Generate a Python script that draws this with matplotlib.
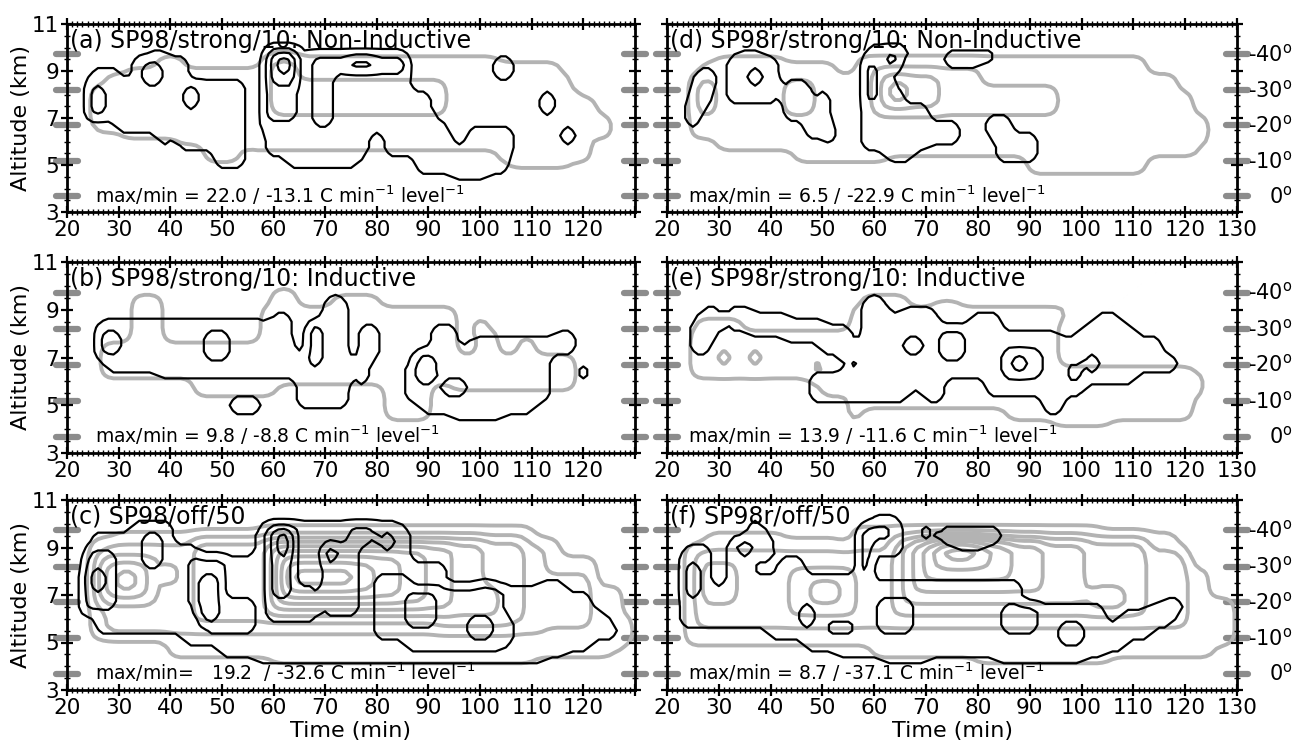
import numpy as np
import matplotlib
matplotlib.use("Agg")
import matplotlib.pyplot as plt
import matplotlib.transforms as mtransforms
from matplotlib.ticker import MultipleLocator

plt.rcParams["font.family"] = "DejaVu Sans"
plt.rcParams["mathtext.default"] = "regular"

# Each field is a set of boxes (t0, t1, z0, z1, level): time in min, altitude in km.
# Nested boxes give the inner contour levels.
A_BLACK = [
    (24, 54, 7.0, 8.5, 1), (25, 30, 8.5, 9.0, 1), (33, 43, 8.5, 9.5, 1), (36, 39, 9.5, 9.75, 1),
    (30, 54, 6.5, 7.0, 1), (38, 40, 6.0, 6.5, 1), (42, 54, 5.75, 6.5, 1), (49, 54, 5.0, 5.75, 1),
    (25, 27, 7.25, 8.25, 2), (35, 38, 8.5, 9.25, 2), (43, 45, 7.5, 8.25, 2),
    (58, 86, 6.5, 9.5, 1), (59, 85, 9.5, 9.75, 1), (59, 64, 9.75, 10.0, 1),
    (86, 90, 6.5, 8.0, 1), (90, 92, 6.25, 7.0, 1), (59, 78, 5.5, 6.5, 1), (82, 94, 5.5, 6.5, 1),
    (94, 106, 5.5, 5.75, 1), (98, 106, 5.75, 6.5, 1), (63, 76, 5.0, 5.5, 1),
    (88, 105, 4.75, 5.5, 1), (95, 101, 4.5, 4.75, 1),
    (59, 64, 7.0, 9.75, 2), (60, 64, 8.5, 9.75, 3), (61, 63, 9.0, 9.5, 4),
    (68, 71, 6.75, 9.25, 2), (68, 85, 9.0, 9.5, 2), (75, 79, 9.25, 9.5, 3),
    (103, 106, 8.75, 9.5, 1), (112, 114, 7.25, 8.0, 1), (116, 118, 6.0, 6.5, 1),
]
A_GRAY = [
    (26, 119, 6.5, 8.0, 1), (25, 30, 6.75, 8.25, 1), (28, 117, 8.0, 8.75, 1),
    (32, 112, 8.75, 9.0, 1), (38, 42, 9.0, 9.5, 1), (58, 103, 9.0, 9.5, 1),
    (104, 115, 8.75, 9.25, 1), (119, 122, 6.5, 7.75, 1), (122, 125, 6.25, 7.0, 1),
    (31, 42, 6.25, 6.5, 1), (42, 120, 6.0, 6.5, 1), (47, 53, 5.25, 6.0, 1),
    (55, 104, 5.75, 6.0, 1), (104, 121, 5.25, 6.0, 1), (106, 117, 5.0, 5.25, 1),
    (60, 93, 7.25, 8.5, 2), (60, 64, 8.5, 9.5, 2),
]

B_BLACK = [
    (26, 63, 7.5, 8.25, 1), (26, 64, 7.0, 7.5, 1), (27, 58, 8.25, 8.5, 1), (60, 63, 8.25, 8.75, 1),
    (28, 38, 6.5, 7.0, 1), (38, 50, 6.25, 7.0, 1), (50, 64, 6.25, 7.0, 1),
    (65, 74, 5.0, 7.0, 1), (67, 74, 7.0, 7.75, 1), (68, 74, 7.75, 8.5, 1),
    (70, 74, 8.5, 9.25, 1), (71, 73, 9.25, 9.5, 1),
    (27, 30, 7.25, 8.0, 2), (47, 51, 7.0, 8.0, 2), (67, 69, 6.75, 8.25, 2),
    (76, 78, 6.0, 7.0, 1), (77, 80, 7.0, 8.25, 1), (52, 57, 4.75, 5.25, 1),
    (86, 113, 5.25, 6.75, 1), (88, 96, 6.75, 7.25, 1), (91, 95, 7.25, 8.25, 1),
    (97, 113, 6.75, 7.5, 1), (99, 118, 7.5, 7.75, 1), (114, 118, 7.25, 7.5, 1),
    (115, 118, 7.75, 8.0, 1), (89, 110, 4.75, 5.25, 1), (95, 104, 4.5, 4.75, 1),
    (88, 91, 6.0, 7.0, 2), (93, 97, 5.5, 6.0, 2), (119, 121, 6.25, 6.5, 1),
]
B_GRAY = [
    (27, 58, 6.25, 7.5, 1), (33, 38, 7.5, 9.5, 1), (45, 60, 5.5, 6.25, 1),
    (58, 95, 6.0, 9.0, 1), (60, 64, 9.0, 9.75, 1), (72, 80, 9.0, 9.5, 1),
    (82, 90, 4.5, 6.0, 1), (95, 118, 5.75, 7.0, 1), (100, 103, 7.0, 8.0, 1),
    (108, 110, 7.0, 7.75, 1), (99, 101, 8.0, 8.5, 1),
]

C_BLACK = [
    (23, 57, 6.25, 8.0, 1), (25, 33, 8.0, 9.5, 1), (33, 40, 8.0, 10.0, 1),
    (40, 45, 8.0, 9.0, 1), (45, 56, 8.0, 8.5, 1), (26, 43, 5.5, 6.25, 1),
    (43, 57, 5.0, 6.25, 1), (50, 60, 4.5, 5.0, 1), (57, 86, 4.25, 9.75, 1),
    (59, 84, 9.75, 10.0, 1), (86, 93, 4.25, 8.25, 1), (93, 112, 4.25, 7.25, 1),
    (100, 102, 7.25, 7.5, 1), (112, 116, 4.5, 7.5, 1), (116, 121, 4.75, 7.0, 1),
    (121, 124, 5.25, 6.25, 1), (124, 126, 5.25, 5.75, 1),
    (24, 29, 6.5, 8.75, 2), (25, 27, 7.25, 8.0, 3), (35, 38, 8.25, 9.5, 2),
    (44, 50, 6.5, 8.5, 2), (47, 56, 5.5, 6.75, 2), (46, 49, 6.0, 7.75, 3),
    (59, 64, 6.0, 9.75, 2), (60, 63, 7.0, 9.75, 3), (61, 63, 8.75, 9.5, 4),
    (65, 68, 6.0, 7.25, 2), (70, 76, 6.25, 9.0, 2), (70, 72, 8.5, 9.0, 3),
    (75, 79, 9.25, 9.75, 2), (81, 83, 9.0, 9.5, 2),
    (80, 86, 5.25, 7.75, 2), (86, 104, 4.75, 7.25, 2), (104, 106, 5.0, 6.0, 2),
    (86, 91, 5.75, 7.0, 3), (98, 102, 5.25, 6.0, 3),
]
C_GRAY = [
    (25, 115, 5.25, 9.25, 1), (30, 57, 9.25, 9.5, 1), (58, 110, 9.25, 9.75, 1),
    (115, 122, 5.0, 8.5, 1), (122, 127, 4.75, 7.25, 1), (127, 129, 5.0, 6.0, 1),
    (40, 125, 4.5, 5.25, 1), (60, 110, 4.25, 4.5, 1),
    (28, 112, 5.5, 9.0, 2), (112, 121, 5.75, 7.75, 2),
    (45, 108, 6.0, 9.25, 3), (26, 37, 6.75, 8.5, 3), (39, 41, 7.5, 8.25, 3),
    (28, 35, 7.0, 8.25, 4), (30, 33, 7.25, 8.0, 5),
    (59, 100, 6.25, 9.25, 4), (60, 94, 6.5, 9.0, 5), (61, 89, 6.75, 8.75, 6),
    (62, 84, 7.0, 8.5, 7), (63, 79, 7.25, 8.25, 8), (64, 75, 7.5, 8.0, 9),
    (92, 106, 5.75, 7.75, 3), (95, 103, 6.25, 7.25, 4),
]

D_BLACK = [
    (24, 26, 6.75, 7.75, 1), (25, 28, 7.5, 8.5, 1), (26, 29, 8.25, 9.0, 1),
    (32, 41, 7.75, 9.5, 1), (34, 38, 9.5, 9.75, 1), (36, 38, 8.5, 9.0, 2),
    (43, 47, 7.0, 8.5, 1), (47, 51, 7.0, 7.5, 1), (49, 51, 7.5, 8.0, 1),
    (47, 50, 6.25, 6.75, 1), (51, 52, 6.0, 6.75, 1),
    (58, 62, 5.75, 9.5, 1), (59, 66, 9.5, 10.0, 1), (62, 64, 8.75, 9.5, 1),
    (62, 65, 5.5, 8.25, 1), (65, 70, 5.75, 7.5, 1), (70, 76, 6.0, 6.75, 1),
    (63, 67, 5.25, 5.5, 1), (74, 80, 9.25, 9.75, 1), (80, 83, 9.5, 9.75, 1),
    (82, 86, 6.25, 7.0, 1), (84, 91, 5.25, 6.25, 1),
    (59, 60, 7.75, 9.25, 2), (63, 64, 9.25, 9.75, 2),
]
D_GRAY = [
    (25, 118, 6.25, 8.75, 1), (27, 52, 8.75, 9.25, 1), (30, 42, 9.25, 9.5, 1),
    (57, 100, 8.75, 9.5, 1), (101, 112, 8.75, 9.5, 1), (112, 118, 8.5, 8.75, 1),
    (118, 121, 6.25, 8.0, 1), (121, 124, 6.0, 7.0, 1), (30, 50, 5.75, 6.25, 1),
    (45, 62, 5.25, 6.25, 1), (62, 122, 5.5, 6.25, 1), (90, 112, 4.75, 5.5, 1),
    (26, 29, 7.25, 8.5, 2), (43, 48, 7.25, 8.5, 2), (60, 80, 7.25, 9.0, 2),
    (80, 95, 7.25, 8.25, 2), (62, 72, 7.5, 8.75, 3), (63, 66, 7.75, 8.5, 4),
]

E_BLACK = [
    (25, 28, 7.25, 8.5, 1), (27, 30, 8.0, 9.0, 1),
    (32, 36, 8.25, 9.0, 1), (36, 43, 8.0, 8.75, 1), (43, 50, 7.75, 8.5, 1),
    (50, 55, 7.25, 8.25, 1), (54, 56, 6.75, 7.75, 1),
    (58, 62, 6.5, 9.25, 1), (59, 61, 9.25, 9.5, 1), (62, 72, 5.75, 8.75, 1),
    (66, 71, 8.75, 9.0, 1), (72, 82, 6.25, 8.25, 1), (79, 84, 8.25, 8.75, 1),
    (82, 95, 5.5, 8.0, 1), (95, 100, 5.5, 7.75, 1), (100, 110, 6.0, 8.25, 1),
    (103, 107, 8.25, 8.75, 1), (110, 115, 6.5, 7.75, 1), (115, 118, 6.5, 7.0, 1),
    (48, 58, 5.25, 6.25, 1), (58, 66, 5.25, 6.5, 1), (70, 73, 5.25, 6.25, 1),
    (93, 96, 4.75, 5.5, 1),
    (66, 69, 7.25, 7.75, 2), (73, 77, 7.0, 8.0, 2), (85, 92, 6.25, 7.25, 2),
    (87, 89, 6.5, 7.0, 3), (98, 99, 6.0, 6.75, 2), (101, 103, 6.5, 7.0, 2),
]
E_GRAY = [
    (25, 56, 6.25, 8.0, 1), (26, 34, 7.5, 8.5, 1), (30, 32, 6.75, 7.25, 2),
    (36, 38, 6.75, 7.25, 2), (48, 50, 6.25, 6.75, 2),
    (56, 95, 5.0, 9.0, 1), (58, 66, 9.0, 9.5, 1), (72, 76, 9.0, 9.25, 1),
    (50, 60, 5.5, 6.25, 1), (86, 121, 4.5, 6.5, 1), (95, 105, 4.25, 4.5, 1),
    (118, 123, 5.5, 6.25, 1), (95, 97, 8.75, 9.0, 1), (55, 57, 4.5, 4.75, 1),
]

F_BLACK = [
    (23, 28, 6.25, 8.75, 1), (24, 28, 8.75, 9.0, 1), (23, 40, 5.75, 7.0, 1),
    (29, 31, 7.0, 7.25, 1), (32, 36, 7.25, 9.25, 1), (36, 40, 8.5, 9.5, 1),
    (36, 38, 9.5, 10.0, 1), (36, 56, 6.0, 7.75, 1), (42, 46, 7.75, 8.5, 1),
    (40, 50, 5.25, 6.0, 1), (47, 58, 4.75, 5.25, 1), (53, 70, 4.5, 4.75, 1),
    (62, 70, 4.25, 4.5, 1),
    (57, 59, 7.5, 9.75, 1), (59, 65, 8.75, 10.0, 1), (60, 64, 10.0, 10.25, 1),
    (57, 86, 4.5, 7.5, 1), (84, 88, 4.25, 7.5, 1), (88, 100, 4.25, 6.5, 1),
    (100, 104, 4.5, 6.5, 1), (104, 108, 4.75, 5.75, 1), (108, 113, 5.25, 6.25, 1),
    (113, 117, 5.75, 6.5, 1), (116, 119, 6.25, 6.75, 1),
    (69, 71, 9.5, 9.75, 1), (73, 84, 9.25, 9.75, 1), (76, 81, 9.0, 9.25, 1),
    (61, 67, 5.5, 6.75, 2), (58, 59, 8.0, 9.75, 2), (60, 63, 9.5, 9.75, 2),
    (24, 26, 7.0, 8.25, 2), (34, 36, 8.75, 9.25, 2), (46, 48, 5.75, 6.5, 2),
    (85, 91, 5.5, 6.5, 2), (96, 100, 5.0, 5.75, 2),
]
F_GRAY = [
    (24, 118, 5.0, 9.0, 1), (28, 42, 9.0, 9.5, 1), (43, 53, 9.0, 9.25, 1),
    (56, 103, 9.0, 9.75, 1), (104, 118, 9.0, 9.5, 1), (118, 124, 5.0, 8.0, 1),
    (124, 129, 5.0, 6.75, 1), (60, 125, 4.5, 5.0, 1), (80, 105, 4.25, 4.5, 1),
    (26, 120, 5.75, 8.75, 2),
    (27, 33, 6.75, 8.25, 3), (44, 56, 6.25, 8.0, 3), (64, 112, 6.25, 9.25, 3),
    (48, 53, 6.75, 7.5, 4), (66, 100, 6.75, 9.25, 4), (102, 108, 6.5, 7.25, 4),
    (68, 92, 7.25, 9.25, 5), (70, 86, 7.75, 9.25, 6), (72, 82, 8.25, 9.25, 7),
    (74, 79, 8.5, 9.25, 8),
]

TITLES = [
    "(a) SP98/strong/10: Non-Inductive", "(b) SP98/strong/10: Inductive", "(c) SP98/off/50",
    "(d) SP98r/strong/10: Non-Inductive", "(e) SP98r/strong/10: Inductive", "(f) SP98r/off/50",
]
MAXMIN = [
    "max/min = 22.0 / -13.1", "max/min = 9.8 / -8.8", "max/min=   19.2  / -32.6",
    "max/min = 6.5 / -22.9", "max/min = 13.9 / -11.6", "max/min = 8.7 / -37.1",
]
BLACK_FIELDS = [A_BLACK, B_BLACK, C_BLACK, D_BLACK, E_BLACK, F_BLACK]
GRAY_FIELDS = [A_GRAY, B_GRAY, C_GRAY, D_GRAY, E_GRAY, F_GRAY]

# altitude of the -40 ... 0 C isotherms
TEMP_ALT = [9.72, 8.19, 6.70, 5.17, 3.68]
TEMP_LABELS = ["-40", "-30", "-20", "-10", "0"]

T_GRID = np.arange(14, 137, 1.0)
Z_GRID = np.arange(1.5, 12.51, 0.25)


def smooth(f):
    p = np.pad(f, 1, mode="edge")
    ny, nx = f.shape
    return sum(p[i:i + ny, j:j + nx] for i in range(3) for j in range(3)) / 9.0


def build_field(boxes, passes=1):
    f = np.zeros((Z_GRID.size, T_GRID.size))
    for t0, t1, z0, z1, lev in boxes:
        cols = (T_GRID >= t0 - 1e-6) & (T_GRID <= t1 + 1e-6)
        rows = (Z_GRID >= z0 - 1e-6) & (Z_GRID <= z1 + 1e-6)
        blk = np.ix_(rows, cols)
        f[blk] = np.maximum(f[blk], lev)
    # round off the box corners with running means
    for _ in range(passes):
        f = smooth(f)
    return f


fig = plt.figure(figsize=(12.93, 7.43), dpi=100)

col_x = [67 / 1293, 667 / 1293]
col_w = [568 / 1293, 570 / 1293]
row_bottom = [1 - 212 / 743, 1 - 453 / 743, 1 - 690 / 743]
row_h = [188 / 743, 191 / 743, 190 / 743]

for k in range(6):
    col, row = divmod(k, 3)
    ax = fig.add_axes([col_x[col], row_bottom[row], col_w[col], row_h[row]])

    gray = build_field(GRAY_FIELDS[k], passes=2)
    black = build_field(BLACK_FIELDS[k], passes=1)
    ax.contour(T_GRID, Z_GRID, gray, levels=np.arange(0.5, gray.max(), 1.0),
               colors="#b3b3b3", linewidths=2.8, zorder=1)
    ax.contour(T_GRID, Z_GRID, black, levels=np.arange(0.5, black.max(), 1.0),
               colors="black", linewidths=1.6, zorder=2)

    ax.set_xlim(20, 130)
    ax.set_ylim(3, 11)
    ax.set_xticks(np.arange(20, 131, 10))
    if col == 0:
        ax.set_xticklabels([str(v) for v in range(20, 121, 10)] + [""])
    ax.set_yticks([3, 5, 7, 9, 11])
    ax.xaxis.set_minor_locator(MultipleLocator(1))
    ax.yaxis.set_minor_locator(MultipleLocator(0.5))
    ax.tick_params(which="both", direction="inout", top=True, right=True,
                   labelsize=15.5, pad=1)
    ax.tick_params(which="major", length=9, width=1.6)
    ax.tick_params(which="minor", length=5, width=1.0)
    for s in ax.spines.values():
        s.set_linewidth(2.0)

    if col == 0:
        ax.set_ylabel("Altitude (km)", fontsize=16, labelpad=1)
    else:
        ax.tick_params(labelleft=False)
        for alt, lab in zip(TEMP_ALT, TEMP_LABELS):
            ax.text(1.097, alt, lab + "$^{o}$", transform=ax.get_yaxis_transform(),
                    ha="right", va="center", fontsize=15)

    # isotherm markers across both side frames
    trans = mtransforms.blended_transform_factory(ax.transAxes, ax.transData)
    for side in (0.0, 1.0):
        for alt in TEMP_ALT:
            ax.plot([side - 0.02, side + 0.02], [alt, alt], transform=trans, clip_on=False,
                    color="#8c8c8c", lw=4.5, solid_capstyle="round", zorder=0.5)

    ax.text(0.006, 0.975, TITLES[k], transform=ax.transAxes, ha="left", va="top", fontsize=17)
    ax.text(0.05 if col == 0 else 0.037, 0.05,
            MAXMIN[k] + " C min$^{-1}$ level$^{-1}$",
            transform=ax.transAxes, ha="left", va="baseline", fontsize=13.5)

for col in range(2):
    fig.text(col_x[col] + col_w[col] / 2, 1 - 731 / 743, "Time (min)",
             ha="center", va="center", fontsize=16)

fig.savefig("out.png", dpi=100)
